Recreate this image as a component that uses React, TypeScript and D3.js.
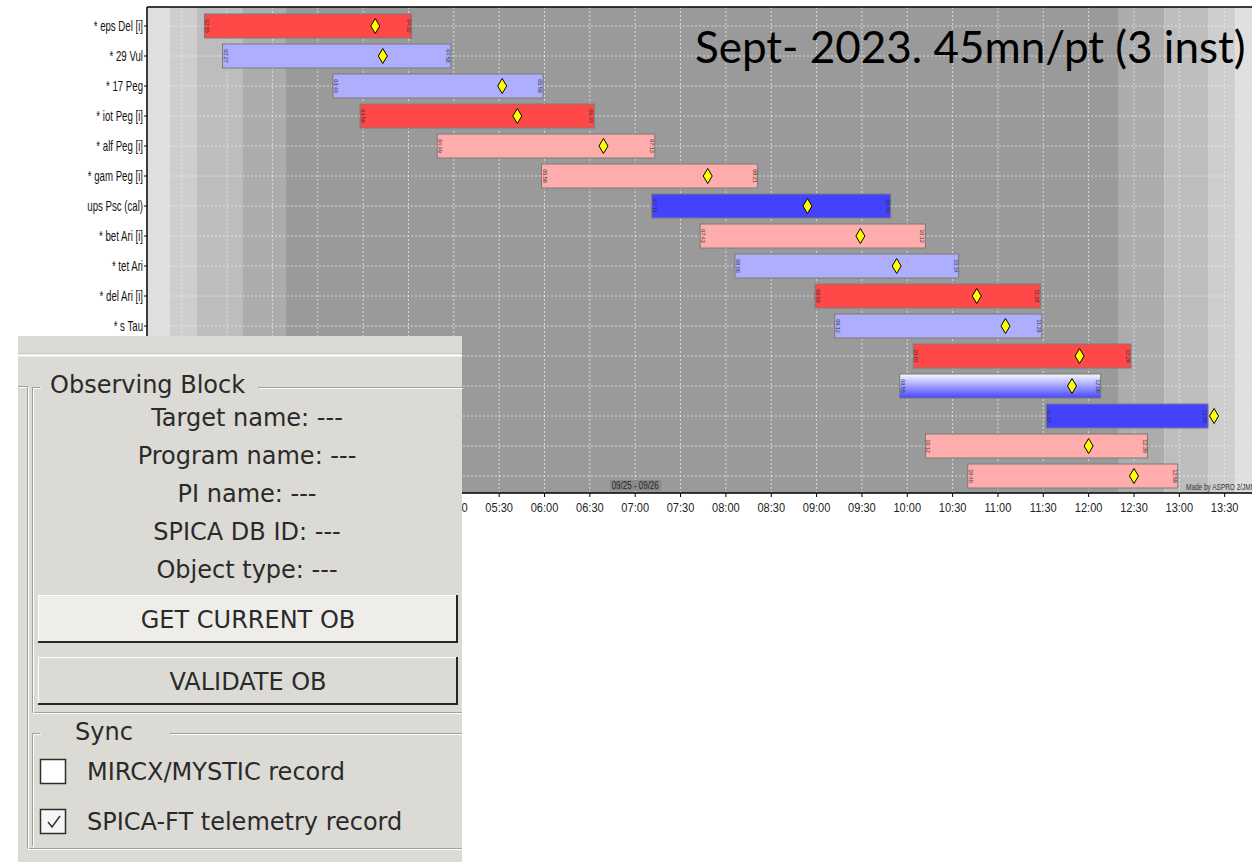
import React, { useRef, useEffect } from 'react';
import * as d3 from 'd3';

// ─── observability data ───────────────────────────────────────────

const targets = [
  '* eps Del [i]', '* 29 Vul', '* 17 Peg', '* iot Peg [i]', '* alf Peg [i]',
  '* gam Peg [i]', 'ups Psc (cal)', '* bet Ari [i]', '* tet Ari', '* del Ari [i]',
  '* s Tau', '', '', '', '', '',
];
const obsStart = ['02:15', '02:27', '03:40', '03:58', '04:49', '05:58', '07:11', '07:43',
  '08:06', '08:59', '09:12', '10:04', '09:55', '11:32', '10:12', '10:40'];
const obsEnd = ['04:32', '04:58', '05:59', '06:33', '07:13', '08:21', '09:49', '10:12',
  '10:34', '11:28', '11:29', '12:28', '12:08', '13:19', '12:39', '12:59'];
const transit = ['04:08', '04:13', '05:32', '05:42', '06:39', '07:48', '08:54', '09:29',
  '09:53', '10:46', '11:05', '11:54', '11:49', '13:23', '12:00', '12:30'];
const kinds = ['red', 'lblue', 'lblue', 'red', 'pink', 'pink', 'blue', 'pink',
  'lblue', 'red', 'lblue', 'red', 'grad', 'blue', 'pink', 'pink'];

const tickLabels = ['02:00', '02:30', '03:00', '03:30', '04:00', '04:30', '05:00', '05:30',
  '06:00', '06:30', '07:00', '07:30', '08:00', '08:30', '09:00', '09:30', '10:00', '10:30',
  '11:00', '11:30', '12:00', '12:30', '13:00', '13:30'];

// twilight zones: day → civil → nautical → astro → night → ... → day
const twilightEdges = ['01:37', '01:52', '02:10', '02:40', '03:09', '12:20', '12:50', '13:19', '13:37', '14:00'];
const twilightShades = ['#dfdfdf', '#cecece', '#bdbdbd', '#acacac', '#9a9a9a', '#acacac', '#bdbdbd', '#cecece', '#dfdfdf'];

const KIND_FILL: Record<string, string> = {
  red: '#ff4848', lblue: '#aeaeff', pink: '#ffacac', blue: '#4242ff', grad: 'url(#calGrad)',
};

const toMin = (s: string) => {
  const [h, m] = s.split(':').map(Number);
  return h * 60 + m;
};

const CHART_FONT = '"Liberation Sans", Arial, sans-serif';
const GTK_FONT = '"DejaVu Sans", Verdana, sans-serif';
const PANEL_RIGHT = 462;

export default function App() {
  const svgRef = useRef<SVGSVGElement>(null);

  useEffect(() => {
    if (!svgRef.current) return;
    const svg = d3.select(svgRef.current);
    svg.selectAll('*').remove();

    const top = 7, bottom = 493, left = 147;

    const x = d3.scaleLinear()
      .domain([toMin(twilightEdges[0]), toMin(twilightEdges[twilightEdges.length - 1])])
      .range([left, 1270]);

    const y = d3.scaleBand<number>()
      .domain(d3.range(targets.length))
      .range([11, 491])
      .paddingInner(0.2)
      .paddingOuter(0.1);

    const defs = svg.append('defs');
    const grad = defs.append('linearGradient').attr('id', 'calGrad')
      .attr('x1', 0).attr('y1', 0).attr('x2', 0).attr('y2', 1);
    grad.append('stop').attr('offset', '0%').attr('stop-color', '#fafaff');
    grad.append('stop').attr('offset', '100%').attr('stop-color', '#4646ff');

    svg.append('rect').attr('width', 1252).attr('height', 862).attr('fill', '#fff');

    // ─── twilight bands ───
    const g = svg.append('g');
    twilightShades.forEach((c, i) => {
      const x0 = x(toMin(twilightEdges[i]));
      const x1 = x(toMin(twilightEdges[i + 1]));
      g.append('rect')
        .attr('x', x0).attr('y', top)
        .attr('width', x1 - x0).attr('height', bottom - top)
        .attr('fill', c);
    });

    // ─── grid ───
    tickLabels.forEach(t => {
      g.append('line')
        .attr('x1', x(toMin(t))).attr('x2', x(toMin(t)))
        .attr('y1', top).attr('y2', bottom)
        .attr('stroke', '#ececec').attr('stroke-opacity', 0.75)
        .attr('stroke-dasharray', '2,2');
    });
    targets.forEach((_, i) => {
      const cy = y(i)! + y.bandwidth() / 2;
      g.append('line')
        .attr('x1', left).attr('x2', 1270)
        .attr('y1', cy).attr('y2', cy)
        .attr('stroke', '#ececec').attr('stroke-opacity', 0.75)
        .attr('stroke-dasharray', '2,2');
    });

    // ─── title ───
    g.append('text')
      .attr('x', 695).attr('y', 63)
      .attr('font-family', 'Lato, "Open Sans", sans-serif')
      .attr('font-size', 44)
      .attr('fill', '#000')
      .text('Sept- 2023. 45mn/pt (3 inst)');

    // ─── observation bars ───
    targets.forEach((_, i) => {
      const x0 = x(toMin(obsStart[i]));
      const x1 = x(toMin(obsEnd[i]));
      const by = y(i)!;
      const bh = y.bandwidth();
      g.append('rect')
        .attr('x', x0).attr('y', by)
        .attr('width', x1 - x0).attr('height', bh)
        .attr('fill', KIND_FILL[kinds[i]])
        .attr('stroke', '#7a7a7a').attr('stroke-width', 1);

      // tiny vertical time labels at both ends
      [[x0 + 3, obsStart[i]], [x1 - 3, obsEnd[i]]].forEach(([lx, lab]) => {
        g.append('text')
          .attr('transform', `translate(${lx},${by + bh / 2}) rotate(90)`)
          .attr('text-anchor', 'middle')
          .attr('dy', '0.35em')
          .attr('font-family', CHART_FONT)
          .attr('font-size', 5.5)
          .attr('fill', '#333')
          .text(lab as string);
      });

      const tx = x(toMin(transit[i]));
      const cy = by + bh / 2;
      g.append('path')
        .attr('d', `M${tx},${cy - 7.5}L${tx + 4.5},${cy}L${tx},${cy + 7.5}L${tx - 4.5},${cy}Z`)
        .attr('fill', '#ffff00')
        .attr('stroke', '#000').attr('stroke-width', 1);
    });

    // ─── axes ───
    g.append('line').attr('x1', left).attr('x2', 1270).attr('y1', top).attr('y2', top)
      .attr('stroke', '#000').attr('stroke-width', 1.5);
    g.append('line').attr('x1', left).attr('x2', left).attr('y1', top).attr('y2', bottom)
      .attr('stroke', '#000').attr('stroke-width', 1.5);
    g.append('line').attr('x1', left).attr('x2', 1270).attr('y1', bottom).attr('y2', bottom)
      .attr('stroke', '#000').attr('stroke-width', 1.5);

    tickLabels.forEach(t => {
      const tx = x(toMin(t));
      g.append('line').attr('x1', tx).attr('x2', tx).attr('y1', bottom).attr('y2', bottom + 4)
        .attr('stroke', '#000');
      if (tx + 16 < PANEL_RIGHT) return; // label entirely hidden by the panel
      g.append('text')
        .attr('transform', `translate(${tx},512) scale(0.82,1)`)
        .attr('text-anchor', 'middle')
        .attr('font-family', CHART_FONT)
        .attr('font-size', 13.5)
        .attr('fill', '#222')
        .text(t);
    });

    targets.forEach((name, i) => {
      const cy = y(i)! + y.bandwidth() / 2;
      g.append('line').attr('x1', left - 3).attr('x2', left).attr('y1', cy).attr('y2', cy)
        .attr('stroke', '#000');
      if (!name) return;
      g.append('text')
        .attr('transform', `translate(${left - 4},${cy}) scale(0.68,1)`)
        .attr('text-anchor', 'end')
        .attr('dy', '0.36em')
        .attr('font-family', CHART_FONT)
        .attr('font-size', 14.2)
        .attr('fill', '#111')
        .text(name);
    });

    // date label & credit
    const midX = x(toMin(tickLabels[10]));
    g.append('rect').attr('x', midX - 25).attr('y', 480).attr('width', 51).attr('height', 11)
      .attr('fill', '#8a8a8a');
    g.append('text')
      .attr('transform', `translate(${midX},489) scale(0.8,1)`)
      .attr('text-anchor', 'middle')
      .attr('font-family', CHART_FONT).attr('font-size', 10).attr('fill', '#222')
      .text('09/25 - 09/26');
    g.append('text')
      .attr('transform', 'translate(1186,490) scale(0.72,1)')
      .attr('font-family', CHART_FONT).attr('font-size', 9).attr('fill', '#333')
      .text('Made by ASPRO 2/JMMC');

    // ─── GTK side panel overlay ───
    const p = svg.append('g').attr('font-family', GTK_FONT).attr('fill', '#2a2a2a');
    const BG = '#dcdad5', DARK = '#a19f99', LIGHT = '#ffffff';
    p.append('rect').attr('x', 18).attr('y', 336).attr('width', PANEL_RIGHT - 18).attr('height', 526).attr('fill', BG);
    p.append('line').attr('x1', 18).attr('x2', PANEL_RIGHT).attr('y1', 353.5).attr('y2', 353.5).attr('stroke', '#c9c7c1');
    p.append('line').attr('x1', 18).attr('x2', PANEL_RIGHT).attr('y1', 355.5).attr('y2', 355.5).attr('stroke', LIGHT).attr('stroke-width', 2);

    const etched = (pts: [number, number][]) => {
      const line = d3.line();
      p.append('path').attr('d', line(pts)).attr('fill', 'none').attr('stroke', DARK);
      p.append('path').attr('d', line(pts.map(([a, b]) => [a + 1, b + 1] as [number, number])))
        .attr('fill', 'none').attr('stroke', LIGHT);
    };
    // outer frame
    etched([[18, 386.5], [27.5, 386.5]]);
    etched([[27.5, 386.5], [27.5, 848.5], [PANEL_RIGHT, 848.5]]);
    // Observing Block frame
    etched([[40, 387.5], [32.5, 387.5], [32.5, 712.5], [PANEL_RIGHT, 712.5]]);
    etched([[258, 387.5], [PANEL_RIGHT, 387.5]]);
    // Sync frame
    etched([[40, 733.5], [32.5, 733.5], [32.5, 846]]);
    etched([[170, 733.5], [PANEL_RIGHT, 733.5]]);

    p.append('text').attr('x', 50).attr('y', 393).attr('font-size', 24).text('Observing Block');
    ['Target name: ---', 'Program name: ---', 'PI name: ---', 'SPICA DB ID: ---', 'Object type: ---']
      .forEach((t, i) => {
        p.append('text').attr('x', 247).attr('y', 426 + i * 38).attr('text-anchor', 'middle')
          .attr('font-size', 24).text(t);
      });

    const button = (y0: number, fill: string, label: string) => {
      p.append('rect').attr('x', 38).attr('y', y0).attr('width', 419).attr('height', 48).attr('fill', fill);
      p.append('path').attr('d', `M38.5,${y0 + 47}V${y0 + 0.5}H457`).attr('fill', 'none').attr('stroke', LIGHT);
      p.append('path').attr('d', `M38,${y0 + 47}H457V${y0}`).attr('fill', 'none').attr('stroke', '#262626').attr('stroke-width', 2);
      p.append('text').attr('x', 248).attr('y', y0 + 33).attr('text-anchor', 'middle')
        .attr('font-size', 24).text(label);
    };
    button(595, '#eeedea', 'GET CURRENT OB');
    button(657, BG, 'VALIDATE OB');

    p.append('text').attr('x', 75).attr('y', 740).attr('font-size', 24).text('Sync');
    p.append('rect').attr('x', 40.5).attr('y', 759.5).attr('width', 25).attr('height', 24)
      .attr('fill', '#fff').attr('stroke', '#2e2e2e').attr('stroke-width', 1.5);
    p.append('text').attr('x', 87).attr('y', 780).attr('font-size', 24).text('MIRCX/MYSTIC record');
    p.append('rect').attr('x', 40.5).attr('y', 809.5).attr('width', 25).attr('height', 24)
      .attr('fill', '#f6f6f6').attr('stroke', '#2e2e2e').attr('stroke-width', 1.5);
    p.append('path').attr('d', 'M48,822L52,827L60,816').attr('fill', 'none')
      .attr('stroke', '#333').attr('stroke-width', 1.5);
    p.append('text').attr('x', 87).attr('y', 830).attr('font-size', 24).text('SPICA-FT telemetry record');
  }, []);

  return (
    <div style={{ position: 'absolute', left: 0, top: 0, width: 1252, height: 862, overflow: 'hidden' }}>
      <svg ref={svgRef} width={1252} height={862} style={{ display: 'block' }} />
    </div>
  );
}
